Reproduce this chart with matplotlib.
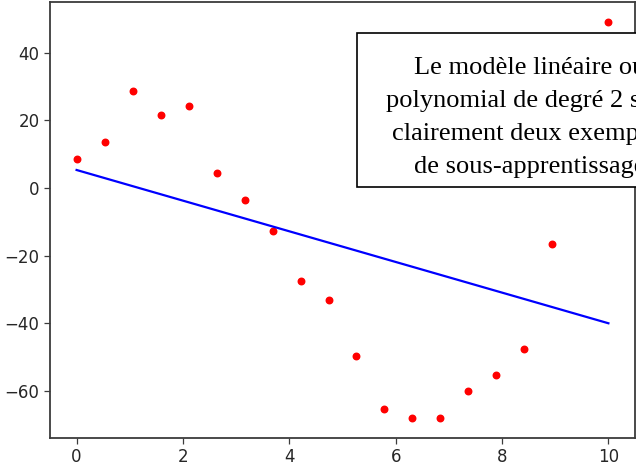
import numpy as np
import matplotlib
matplotlib.use("Agg")
import matplotlib.pyplot as plt
from matplotlib.patches import Rectangle

# Sample points and their observed values
x = np.linspace(0, 10, 20)
y = [8.4, 13.6, 28.6, 21.6, 24.1, 4.5, -3.45, -12.8, -27.5, -33.0,
     -49.8, -65.5, -68.0, -68.0, -60.0, -55.4, -47.7, -16.6, 10.5, 49.1]

xticks = [0, 2, 4, 6, 8, 10]
yticks = [-60, -40, -20, 0, 20, 40]

note = ("Le modèle linéaire ou\npolynomial de degré 2 sont\n"
        "clairement deux exemples\nde sous-apprentissage")

# Straight-line least-squares fit
coef = np.polyfit(x, y, 1)
y_fit = np.polyval(coef, x)

W, H = 636, 466
fig = plt.figure(figsize=(W / 100, H / 100), dpi=100)
ax = fig.add_axes([50 / W, (H - 437.7) / H, 585 / W, 435.7 / H])

ax.scatter(x, y, s=22, color="red", zorder=2)
ax.plot(x, y_fit, color="blue", lw=1.6, zorder=2)

ax.set_xticks(xticks)
ax.set_yticks(yticks)
ax.margins(0.05)

spine_c = "#3c3c3c"
for s in ax.spines.values():
    s.set_color(spine_c)
    s.set_linewidth(1.3)
ax.tick_params(colors=spine_c, labelcolor="#262626", labelsize=12,
               length=4, width=0.9)

# Annotation frame in the upper right, running past the figure edge
frame = Rectangle((0.5243, 0.5747), 0.7, 0.9282 - 0.5747,
                  transform=ax.transAxes, facecolor="white",
                  edgecolor="black", lw=1.2, zorder=4, clip_on=False)
ax.add_patch(frame)
# multi-line text with va="baseline" sits on the baseline of its last line
ax.text(0.8205, 0.6064, note, transform=ax.transAxes, ha="center",
        va="baseline", multialignment="center", fontsize=19,
        family="Liberation Serif", linespacing=1.66, zorder=5)

fig.savefig("out.png", dpi=100)
